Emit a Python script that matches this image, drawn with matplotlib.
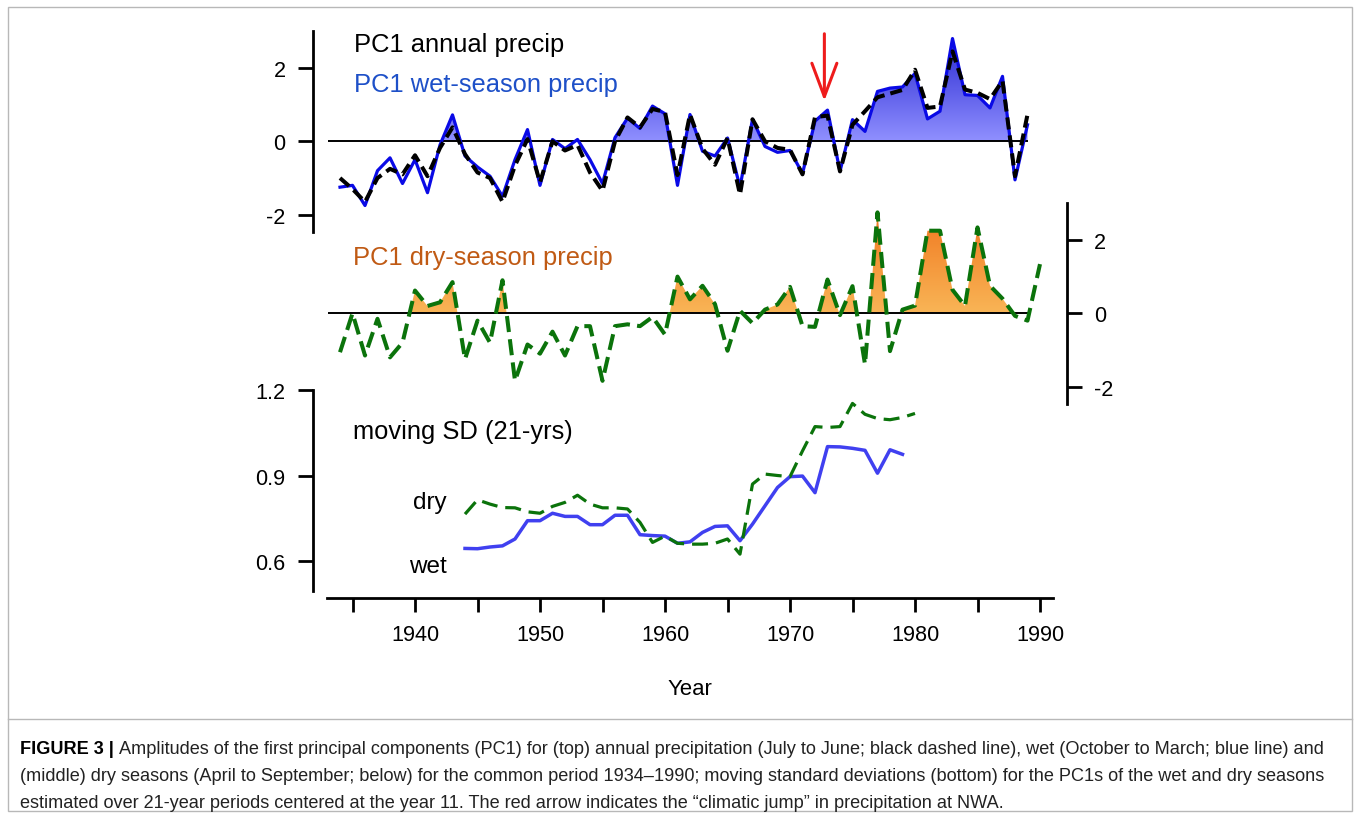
import numpy as np
import matplotlib
matplotlib.use("Agg")
import matplotlib.pyplot as plt
from matplotlib import font_manager
from matplotlib.colors import LinearSegmentedColormap
from matplotlib.lines import Line2D
from matplotlib.patches import PathPatch, Rectangle
from matplotlib.path import Path

# ---- data ----
years_top = np.arange(1934, 1990)
wet = np.array([
    -1.25, -1.2, -1.75, -0.8, -0.45, -1.15, -0.5, -1.4, -0.1, 0.72,
    -0.4, -0.7, -0.95, -1.5, -0.5, 0.32, -1.2, 0.05, -0.2, 0.05,
    -0.5, -1.15, 0.1, 0.63, 0.35, 0.96, 0.75, -1.2, 0.73, -0.27,
    -0.4, 0.09, -1.25, 0.6, -0.14, -0.3, -0.25, -0.88, 0.55, 0.85,
    -0.82, 0.59, 0.27, 1.36, 1.45, 1.48, 1.85, 0.61, 0.82, 2.8,
    1.27, 1.25, 0.91, 1.77, -1.05, 0.45,
])
annual = np.array([
    -1.0, -1.3, -1.65, -1.0, -0.75, -0.9, -0.38, -0.95, -0.18, 0.38,
    -0.35, -0.85, -1.0, -1.65, -0.66, 0.06, -1.12, 0.0, -0.25, -0.1,
    -0.85, -1.35, 0.0, 0.65, 0.38, 0.88, 0.8, -0.92, 0.73, -0.2,
    -0.64, 0.09, -1.45, 0.6, 0.0, -0.18, -0.23, -0.9, 0.66, 0.7,
    -0.82, 0.45, 0.82, 1.2, 1.3, 1.4, 1.95, 0.91, 0.95, 2.45,
    1.41, 1.32, 1.15, 1.65, -0.95, 0.73,
])

years_dry = np.arange(1934, 1991)
dry = np.array([
    -1.06, 0.0, -1.15, -0.15, -1.2, -0.8, 0.62, 0.2, 0.3, 0.85,
    -1.25, -0.2, -0.8, 0.9, -1.84, -0.85, -1.1, -0.5, -1.15, -0.35,
    -0.35, -1.84, -0.35, -0.3, -0.35, -0.1, -0.58, 1.0, 0.38, 0.75,
    0.25, -1.02, 0.07, -0.27, 0.1, 0.24, 0.72, -0.35, -0.37, 0.92,
    -0.05, 0.74, -1.39, 2.75, -1.03, 0.1, 0.21, 2.25, 2.25, 0.64,
    0.2, 2.34, 0.75, 0.4, -0.07, -0.2, 1.34,
])

years_sd_wet = np.arange(1944, 1980)
sd_wet = np.array([
    0.645, 0.644, 0.65, 0.654, 0.678, 0.742, 0.742, 0.768, 0.757, 0.757,
    0.728, 0.728, 0.761, 0.761, 0.693, 0.69, 0.688, 0.663, 0.668, 0.701,
    0.722, 0.724, 0.672, 0.73, 0.794, 0.858, 0.896, 0.898, 0.84, 1.001,
    1.0, 0.995, 0.988, 0.908, 0.99, 0.974,
])
years_sd_dry = np.arange(1944, 1981)
sd_dry = np.array([
    0.765, 0.815, 0.8, 0.788, 0.787, 0.773, 0.768, 0.792, 0.806, 0.831,
    0.8, 0.787, 0.787, 0.783, 0.736, 0.666, 0.688, 0.663, 0.66, 0.66,
    0.663, 0.678, 0.625, 0.87, 0.905, 0.9, 0.896, 0.986, 1.071, 1.068,
    1.071, 1.152, 1.114, 1.099, 1.095, 1.103, 1.117,
])

jump_year = 1972.75
top_ticks = [-2, 0, 2]
sd_ticks = [0.6, 0.9, 1.2]
x_ticks = np.arange(1935, 1991, 5)
x_ticklabels = [str(t) if t % 10 == 0 else "" for t in x_ticks]

caption = [
    "Amplitudes of the first principal components (PC1) for (top) annual precipitation "
    "(July to June; black dashed line), wet (October to March; blue line) and",
    "(middle) dry seasons (April to September; below) for the common period 1934\u20131990; "
    "moving standard deviations (bottom) for the PC1s of the wet and dry seasons",
    "estimated over 21-year periods centered at the year 11. The red arrow indicates "
    "the \u201cclimatic jump\u201d in precipitation at NWA.",
]

# ---- style ----
plt.rcParams["font.family"] = ["Liberation Sans", "DejaVu Sans"]
plt.rcParams["axes.unicode_minus"] = False

BLUE = "#0a0ae6"
BLUE_SD = "#4040f0"
GREEN = "#0b730b"
RED = "#ee1c1c"
TICK_FS = 15.6
LABEL_FS = 18.4

W, H = 1360, 820
fig = plt.figure(figsize=(W / 100, H / 100), dpi=100)


def box(x0, y0, x1, y1):
    """pixel box (origin top-left) -> figure-fraction rect"""
    return [x0 / W, 1 - y1 / H, (x1 - x0) / W, (y1 - y0) / H]


def fxy(x, y):
    return x / W, 1 - y / H


def year_at(px):
    return 1960 + (px - 665) / 12.5


XL, XR = 312.7, 1066.7
xlim = (year_at(XL), year_at(XR))


def gradient_fill(ax, x, y, colors):
    poly = ax.fill_between(x, y, 0, where=y > 0, interpolate=True,
                           facecolor="none", edgecolor="none")
    path = Path.make_compound_path(*poly.get_paths())
    clip = PathPatch(path, transform=ax.transData, facecolor="none",
                     edgecolor="none")
    ax.add_patch(clip)
    cmap = LinearSegmentedColormap.from_list("grad", colors)
    grad = np.linspace(0, 1, 256).reshape(-1, 1)
    im = ax.imshow(grad, cmap=cmap, origin="lower", aspect="auto",
                   extent=[x[0], x[-1], 0, y.max()], zorder=1)
    im.set_clip_path(clip)


def strip(ax, keep):
    for side in ["left", "right", "top", "bottom"]:
        ax.spines[side].set_visible(side in keep)
        ax.spines[side].set_linewidth(2)
    ax.patch.set_alpha(0)


# ---- top: annual + wet ----
ax1 = fig.add_axes(box(XL, 31.7, XR, 233))
gradient_fill(ax1, years_top, wet, ["#9090ff", "#2a2ad2"])
ax1.hlines(0, 1933, 1989, color="black", lw=1.4, zorder=2)
ax1.plot(years_top, wet, color=BLUE, lw=2.3, zorder=3)
ax1.plot(years_top, annual, color="black", lw=2.9, dashes=(3, 1.5), zorder=4)
ax1.annotate("", xy=(jump_year, 1.1), xytext=(jump_year, 2.93),
             arrowprops=dict(arrowstyle="->,head_length=1.2,head_width=0.45",
                             color=RED, lw=2.2, mutation_scale=20,
                             shrinkA=0, shrinkB=0))
ax1.set_xlim(xlim)
ax1.set_ylim(-2.471, 3.014)
strip(ax1, ["left"])
ax1.set_xticks([])
ax1.set_yticks(top_ticks)
ax1.tick_params(axis="y", length=10.5, width=2, labelsize=TICK_FS, pad=9)

# ---- middle: dry season (shaded only over the common 1934-1989 span) ----
ax2 = fig.add_axes(box(XL, 204, XR, 405))
shade = years_dry <= 1989
gradient_fill(ax2, years_dry[shade], dry[shade], ["#f9b556", "#f07820"])
ax2.hlines(0, 1933, 1989, color="black", lw=1.4, zorder=2)
ax2.plot(years_dry, dry, color=GREEN, lw=2.9, dashes=(4, 1.8), zorder=3)
ax2.set_xlim(xlim)
ax2.set_ylim(-2.471, 3.005)
strip(ax2, ["right"])
ax2.set_xticks([])
ax2.yaxis.tick_right()
ax2.set_yticks(top_ticks)
ax2.tick_params(axis="y", length=10.5, width=2, labelsize=TICK_FS, pad=9)

# ---- bottom: moving SD ----
ax3 = fig.add_axes(box(XL, 390.7, XR, 599))
ax3.plot(years_sd_wet, sd_wet, color=BLUE_SD, lw=2.5, zorder=3)
ax3.plot(years_sd_dry, sd_dry, color=GREEN, lw=2.3, dashes=(5, 2.5), zorder=4)
ax3.set_xlim(xlim)
ax3.set_ylim(0.4717, 1.2)
strip(ax3, ["left", "bottom"])
ax3.spines["left"].set_bounds(0.497, 1.2)
ax3.spines["bottom"].set_bounds(year_at(327), year_at(1053))
ax3.set_yticks(sd_ticks)
ax3.set_yticklabels(["0.6", "0.9", "1.2"])
ax3.set_xticks(x_ticks)
ax3.set_xticklabels(x_ticklabels)
ax3.tick_params(axis="y", length=10.5, width=2, labelsize=TICK_FS, pad=9)
ax3.tick_params(axis="x", length=10, width=2, labelsize=TICK_FS, pad=9)

# ---- panel texts ----
fig.text(*fxy(354, 51.7), "PC1 annual precip", fontsize=LABEL_FS, color="black")
fig.text(*fxy(354, 91.7), "PC1 wet-season precip", fontsize=LABEL_FS, color="#1e50c8")
fig.text(*fxy(353, 265), "PC1 dry-season precip", fontsize=LABEL_FS, color="#c05a14")
fig.text(*fxy(353, 439.3), "moving SD (21-yrs)", fontsize=LABEL_FS, color="black")
fig.text(*fxy(447, 509), "dry", fontsize=17.5, ha="right", color="black")
fig.text(*fxy(447, 573.3), "wet", fontsize=17.5, ha="right", color="black")
fig.text(*fxy(690, 695), "Year", fontsize=15.9, ha="center", color="black")

# ---- caption and frame ----
names = {f.name for f in font_manager.fontManager.ttflist}
cap_family = "Liberation Sans Narrow" if "Liberation Sans Narrow" in names else "Liberation Sans"

renderer = fig.canvas.get_renderer()
bold = fig.text(*fxy(20, 754), "FIGURE 3 | ", fontsize=12, fontweight="bold",
                family=cap_family, color="black")
rest = fig.text(*fxy(20, 754), caption[0], fontsize=12, family=cap_family, color="#222222")
w_bold = bold.get_window_extent(renderer).width
w_rest = rest.get_window_extent(renderer).width
cap_fs = 12 * (1330 - 20) / (w_bold + w_rest)
bold.set_fontsize(cap_fs)
rest.set_fontsize(cap_fs)
w_bold = bold.get_window_extent(renderer).width
rest.set_position(fxy(20 + w_bold, 754))
for i, line in enumerate(caption[1:], start=1):
    fig.text(*fxy(20, 754 + 27 * i), line, fontsize=cap_fs,
             family=cap_family, color="#222222")

fig.add_artist(Rectangle(fxy(8, 812), 1344 / W, 804 / H, transform=fig.transFigure,
                         fill=False, edgecolor="#b8b8b8", lw=1))
fig.add_artist(Line2D([8 / W, 1352 / W], [1 - 720 / H] * 2, transform=fig.transFigure,
                      color="#b8b8b8", lw=1))

fig.savefig("out.png", dpi=100)
